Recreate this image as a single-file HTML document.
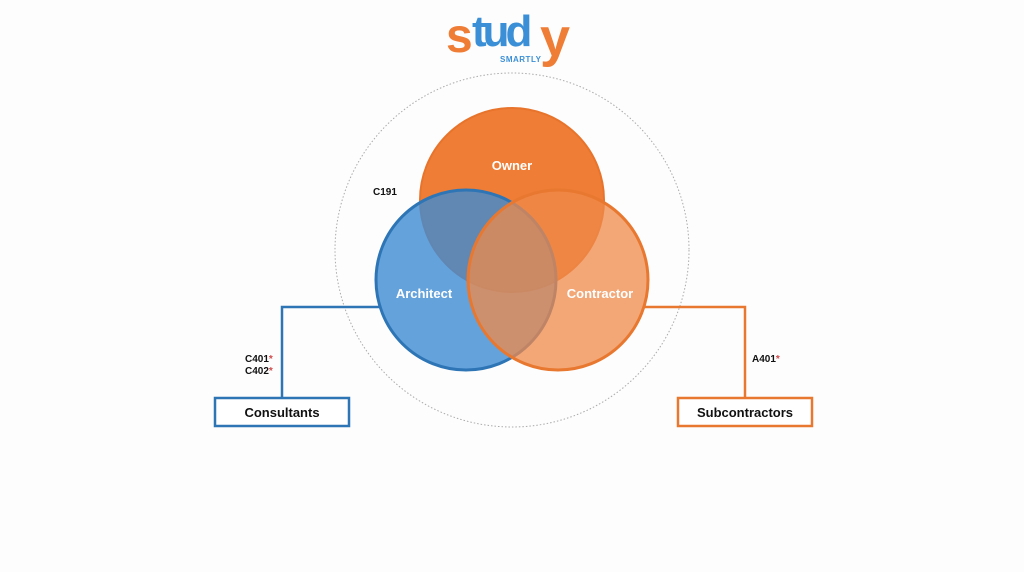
<!DOCTYPE html>
<html><head><meta charset="utf-8"><style>
html,body{margin:0;padding:0;background:#fff;}
body{width:1024px;height:572px;overflow:hidden;position:relative;font-family:"Liberation Sans",sans-serif;}
</style></head><body>
<svg width="1024" height="572" viewBox="0 0 1024 572" xmlns="http://www.w3.org/2000/svg" style="position:absolute;left:0;top:0">
<rect width="1024" height="572" fill="#fdfdfd"/>
<!-- logo -->
<text x="446" y="52" font-family="Liberation Sans" font-weight="bold" font-size="48" fill="#EF7D35" letter-spacing="-4">s</text>
<text x="472" y="46" font-family="Liberation Sans" font-weight="bold" font-size="44" fill="#3B8FD6" letter-spacing="-4">tud</text>
<text x="540" y="56" font-family="Liberation Sans" font-weight="bold" font-size="54" fill="#EF7D35">y</text>
<text x="500" y="62" font-family="Liberation Sans" font-weight="bold" font-size="8" fill="#3B8FD6" letter-spacing="0.5">SMARTLY</text>
<!-- dotted outer circle -->
<circle cx="512" cy="250" r="177" fill="none" stroke="#aaa" stroke-width="1" stroke-dasharray="1.5 2"/>
<!-- connectors -->
<polyline points="380,307 282,307 282,398" fill="none" stroke="#2E75B6" stroke-width="2.5"/>
<polyline points="644,307 745,307 745,398" fill="none" stroke="#E8782F" stroke-width="2.5"/>
<rect x="215" y="398" width="134" height="28" fill="#fff" stroke="#2E75B6" stroke-width="2.5"/>
<rect x="678" y="398" width="134" height="28" fill="#fff" stroke="#E8782F" stroke-width="2.5"/>
<text x="282" y="417" text-anchor="middle" font-weight="bold" font-size="13" fill="#111">Consultants</text>
<text x="745" y="417" text-anchor="middle" font-weight="bold" font-size="13" fill="#111">Subcontractors</text>
<text x="245" y="362" font-weight="bold" font-size="10" fill="#111">C401<tspan fill="#d04a4a">*</tspan></text>
<text x="245" y="374" font-weight="bold" font-size="10" fill="#111">C402<tspan fill="#d04a4a">*</tspan></text>
<text x="752" y="362" font-weight="bold" font-size="10" fill="#111">A401<tspan fill="#d04a4a">*</tspan></text>
<text x="373" y="195" font-weight="bold" font-size="10" fill="#111">C191</text>
<!-- circles -->
<circle cx="512" cy="200" r="92" fill="#EF7D35" stroke="#E8742C" stroke-width="2"/>
<circle cx="466" cy="280" r="90" fill="#3D8BD3" fill-opacity="0.8" stroke="#2E75B6" stroke-width="3"/>
<circle cx="558" cy="280" r="90" fill="#EF8A4A" fill-opacity="0.75" stroke="#E8782F" stroke-width="3"/>
<text x="512" y="170" text-anchor="middle" font-weight="bold" font-size="13" fill="#fff">Owner</text>
<text x="424" y="298" text-anchor="middle" font-weight="bold" font-size="13" fill="#fff">Architect</text>
<text x="600" y="298" text-anchor="middle" font-weight="bold" font-size="13" fill="#fff">Contractor</text>
</svg>
</body></html>
